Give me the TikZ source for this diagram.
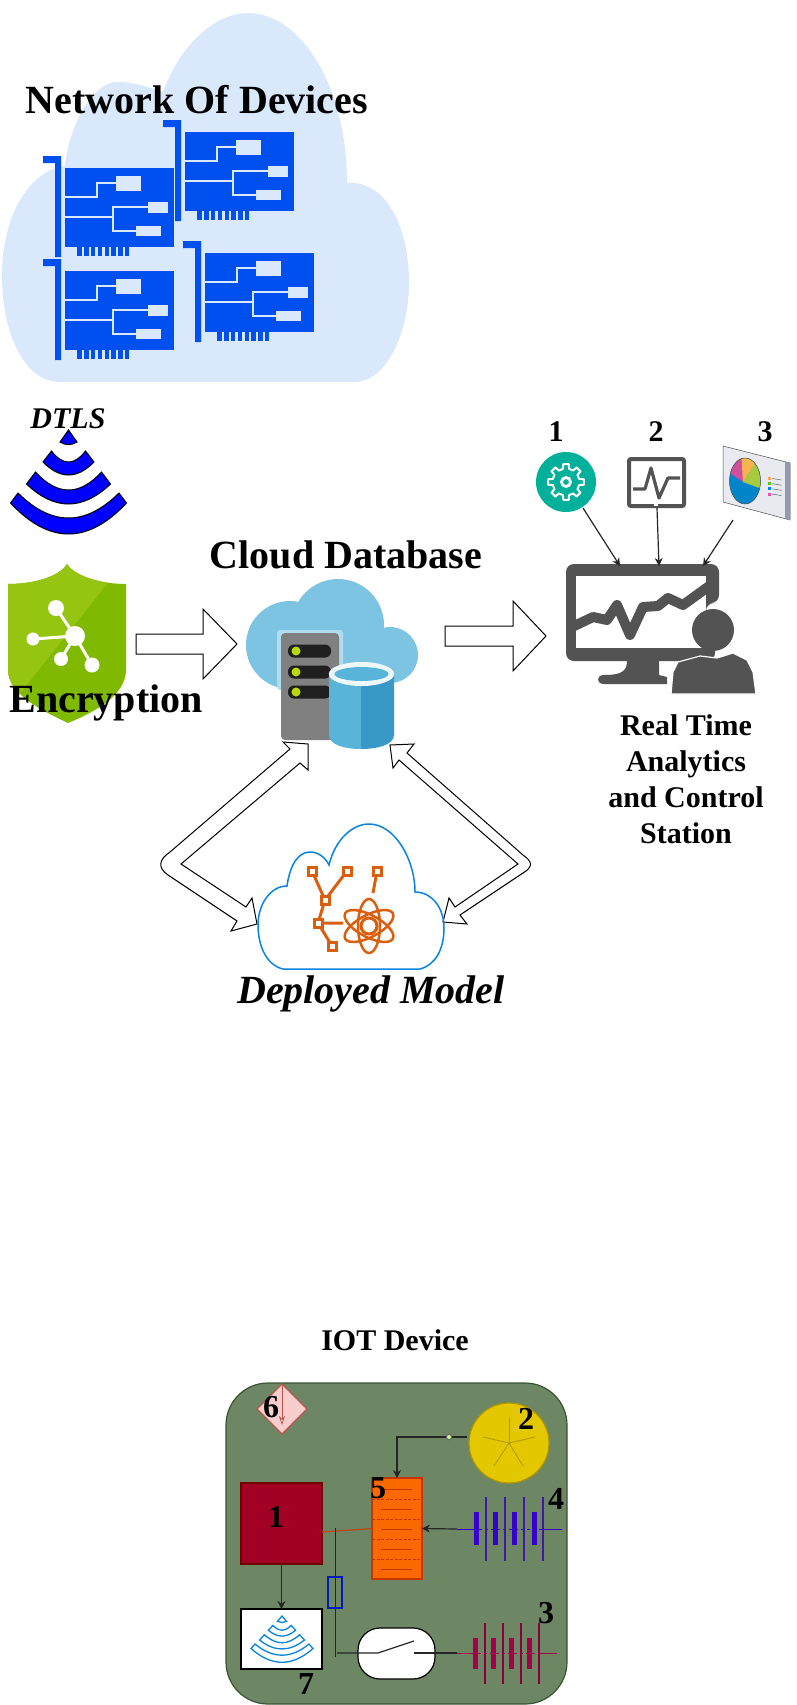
\documentclass[tikz,border=0pt]{standalone}
\usepackage{fontspec}
\setmainfont{Liberation Serif}
\usetikzlibrary{arrows.meta,shapes.geometric}
\definecolor{cardblue}{HTML}{0050EF}
\definecolor{cloudblue}{HTML}{DAE8FC}
\definecolor{skyblue}{HTML}{7DC3E2}
\definecolor{darkgrey}{HTML}{535353}
\definecolor{iconorange}{HTML}{D95F0E}
\definecolor{shieldgreen}{RGB}{127,186,0}
\definecolor{shieldlight}{RGB}{149,197,17}
\definecolor{iconblue}{RGB}{10,132,224}
\definecolor{drumlight}{RGB}{89,180,217}
\definecolor{drumdark}{RGB}{57,153,198}
\definecolor{ledgreen}{RGB}{186,216,10}
\definecolor{batfour}{HTML}{3700CC}
\definecolor{batthr}{HTML}{A20049}
\definecolor{memedge}{RGB}{199,53,0}
\definecolor{pinkedge}{RGB}{184,84,80}
\definecolor{sunedge}{RGB}{176,149,0}
\definecolor{busblue}{RGB}{0,29,188}

\tikzset{
    pics/netcard/.style={code={
        \fill[cardblue] (0,0) rectangle (109,79);
        \fill[cardblue] (-22,-12) -- (-4,-12) -- (-4,89) -- (-10,89) -- (-10,-5) -- (-22,-5) -- cycle;
        \foreach \k in {0,...,7} {
            \fill[cardblue] ({12.3+6.8*\k},79) rectangle ++(4.4,9);
        }
        \draw[cloudblue, line width=1.5] (0,29) -- (32,29) -- (32,15) -- (51,15);
        \draw[cloudblue, line width=1.5] (0,49) -- (48,49);
        \draw[cloudblue, line width=1.5] (83,39) -- (48,39) -- (48,63) -- (71,63);
        \fill[cloudblue] (51,8) rectangle (76,23);
        \fill[cloudblue] (83,34) rectangle (103,45);
        \fill[cloudblue] (71,58) rectangle (96,68);
    }},
    pics/wifiicon/.style={code={
        \path[pic actions] (0,0) -- (8.5,12) .. controls (3,15.5) and (-3,15.5) .. (-8.5,12) -- cycle;
        \foreach \a/\b/\c/\d/\e/\f in {25.5/32/45/17/21/32, 42/54/74/33/42/60, 58/73/104/50.5/63/88} {
            \path[pic actions] (-\a,\b) .. controls ({-\a/3},{\b+4/3*(\c-\b)}) and ({\a/3},{\b+4/3*(\c-\b)}) .. (\a,\b)
                -- (\d,\e) .. controls ({\d/3},{\e+4/3*(\f-\e)}) and ({-\d/3},{\e+4/3*(\f-\e)}) .. (-\d,\e) -- cycle;
        }
    }}
}

\begin{document}
\begin{tikzpicture}[
    x=1pt, y=-1pt,
    bigtitle/.style={font=\bfseries\fontsize{40}{40}\selectfont, anchor=base, inner sep=0pt},
    smalltitle/.style={font=\bfseries\fontsize{30}{30}\selectfont, anchor=base, inner sep=0pt},
    numlabel/.style={font=\bfseries\fontsize{32}{32}\selectfont, anchor=base, inner sep=0pt},
    blockarrow/.style={draw=black, fill=white, line width=1},
    thinarrow/.style={draw=black!85, line width=1.2, -{Stealth[length=8pt,width=8pt]}},
    wire/.style={draw=black!85, line width=1.2},
    flat/.style={inner sep=0pt, outer sep=0pt, line width=1.2},
    plate/.style={line width=1.2},
    cell/.style={line width=1}
]
    \useasboundingbox (0,0) rectangle (797,1705);

    % network of devices
    \fill[cloudblue] (60,382) .. controls (25,382) and (2,335) .. (2,275)
        .. controls (2,215) and (30,170) .. (65,166)
        .. controls (70,120) and (95,82) .. (117,82)
        .. controls (135,82) and (150,88) .. (163,92)
        .. controls (180,45) and (215,13) .. (248,13)
        .. controls (300,13) and (347,85) .. (347,183)
        .. controls (385,180) and (409,225) .. (409,283)
        .. controls (409,335) and (385,382) .. (355,382) -- cycle;
    \pic (carda) at (65,168) {netcard};
    \pic (cardb) at (185,132) {netcard};
    \pic (cardc) at (65,271) {netcard};
    \pic (cardd) at (205,253) {netcard};
    \node[bigtitle] (network) at (197,113) {Network Of Devices};

    % dtls and encryption
    \node[font=\bfseries\itshape\fontsize{30}{30}\selectfont, anchor=base, inner sep=0pt] (dtls) at (68,428) {DTLS};
    \pic[draw=black, fill=blue, line width=1] at (68.5,430) {wifiicon};

    \fill[shieldgreen] (67,564)
        .. controls (60,576) and (35,584) .. (8,584) -- (8,670)
        .. controls (8,695) and (45,712) .. (68,723)
        .. controls (95,712) and (126,695) .. (126,670) -- (126,584)
        .. controls (100,584) and (75,576) .. (67,564) -- cycle;
    \begin{scope}
        \clip (67,564) .. controls (60,576) and (35,584) .. (8,584) -- (8,670)
            .. controls (8,695) and (45,712) .. (68,723)
            .. controls (95,712) and (126,695) .. (126,670) -- (126,584)
            .. controls (100,584) and (75,576) .. (67,564) -- cycle;
        \fill[shieldlight] (0,550) -- (121,550) -- (107,584) -- (25,687) -- (0,720) -- cycle;
    \end{scope}
    \draw[white, line width=3] (56,608) -- (75,636) (33,639) -- (75,636) (61,659) -- (75,636) (92,665) -- (75,636);
    \fill[white] (75,636) circle (10) (56,608) circle (8) (33,639) circle (6.5) (61,659) circle (7) (92,665) circle (7.5);
    \node[bigtitle] (encryption) at (106,712) {Encryption};

    \draw[blockarrow] (136,634) -- (203,634) -- (203,609) -- (237,644) -- (203,679) -- (203,654) -- (136,654) -- cycle;

    % cloud database
    \fill[skyblue] (290,645) circle (44);
    \fill[skyblue] (338,625) circle (46);
    \fill[skyblue] (390,655) circle (28);
    \fill[skyblue] (290,630) rectangle (390,683);
    \fill[white!40!skyblue, rounded corners=3] (277,630) rectangle (343,690);
    \fill[black!50, rounded corners=4] (281,633) rectangle (339,740);
    \foreach \y in {651,672,692} {
        \fill[black!88, rounded corners=6] (288,\y-6.5) rectangle (331,\y+6.5);
        \fill[ledgreen] (296,\y) circle (4.5);
    }
    \fill[drumlight] (329,674) -- (361,674) -- (361,749) .. controls (345,749) and (329,745) .. (329,735) -- cycle;
    \fill[drumdark] (361,674) -- (394,674) -- (394,735) .. controls (394,745) and (377,749) .. (361,749) -- cycle;
    \fill[white!90!drumlight] (361.5,674) ellipse (32.7 and 12);
    \fill[drumlight] (361.5,674) ellipse (27 and 7);
    \node[bigtitle] (database) at (346,568) {Cloud Database};

    \draw[blockarrow] (445,626) -- (513,626) -- (513,601) -- (546,636) -- (513,671) -- (513,646) -- (445,646) -- cycle;

    % analytics station
    \fill[darkgrey, rounded corners=8] (566,564) -- (719,564) -- (719,603) -- (706,603) -- (706,625) -- (715,625) -- (715,661) -- (566,661) -- cycle;
    \fill[white] (576,576) rectangle (706,648);
    \begin{scope}
        \clip (576,576) rectangle (706,648);
        \draw[darkgrey, line width=10, line join=round] (570,628) -- (593,617) -- (607,620) -- (617,605) -- (630,635) -- (643,607) -- (658,606) -- (668,598) -- (683,605) -- (712,584);
    \end{scope}
    \fill[darkgrey] (627,661) -- (659,661) -- (659,675) -- (667,677) -- (667,684) -- (604,684)
        .. controls (596,684) and (596,675) .. (604,675) .. controls (620,675) and (627,672) .. (627,661) -- cycle;
    \filldraw[darkgrey, draw=white, line width=1.2] (671,694) -- (673,672) -- (678,662) -- (700,656) -- (717,658) -- (733,653) -- (747,660) -- (753,672) -- (756,694) -- cycle;
    \fill[darkgrey] (713,630) circle (21);
    \coordinate (station1) at (620,566);
    \coordinate (station2) at (659,566);
    \coordinate (station3) at (703,566);

    \fill[fill={rgb,255:red,0;green,176;blue,155}] (566,482) circle (30);
    \begin{scope}[shift={(566,482)}]
        \draw[white, line width=2, line join=round] (-13:13.5)
            \foreach \a in {0,45,...,315} { -- (\a-13:13.5) -- (\a-9:18) -- (\a+9:18) -- (\a+13:13.5) } -- cycle;
        \draw[white, line width=2.8] (0,0) circle (4.5);
    \end{scope}
    \coordinate (gearout) at (583,508);
    \node[smalltitle] (first) at (556,441) {1};

    \draw[darkgrey, line width=4, rounded corners=2, fill=white] (629,459) rectangle (684,506);
    \draw[darkgrey, line width=3.2, line join=round] (633,489) -- (645,489) -- (651,468) -- (659,498) -- (668,478) -- (680,478);
    \fill[white] (654,504) rectangle (658,506);
    \coordinate (scopeout) at (657,508);
    \node[smalltitle] (second) at (656,441) {2};

    \filldraw[draw=black!70, line width=0.5, fill={rgb,255:red,232;green,234;blue,240}] (723,446) -- (790,463) -- (790,520) -- (723,502) -- cycle;
    \fill[fill={rgb,255:red,143;green,155;blue,179}] (785,462) -- (790,463) -- (790,520) -- (785,519) -- cycle;
    \begin{scope}
        \clip (745,481) ellipse (15.5 and 23);
        \fill[fill={rgb,255:red,0;green,133;blue,203}] (720,450) rectangle (770,510);
        \fill[fill={rgb,255:red,206;green,79;blue,155}] (743,482) -- (725,470) -- (730,450) -- (743,450) -- cycle;
        \fill[fill={rgb,255:red,249;green,180;blue,79}] (743,482) -- (741,450) -- (757,450) -- (755,464) -- cycle;
        \fill[fill={rgb,255:red,167;green,203;blue,62}] (743,482) -- (755,464) -- (765,460) -- (765,490) -- cycle;
    \end{scope}
    \draw[black!70, line width=0.5] (745,481) ellipse (15.5 and 23);
    \foreach \y/\c in {0/orange!70, 1/green!60!yellow!80!black, 2/blue!50!cyan, 3/magenta!70} {
        \fill[\c] (767.5,{477+\y*5.2}) rectangle ++(3,3);
        \draw[black!60, line width=0.5] (772.5,{478.5+\y*5.2}) -- ++(9,1.5);
    }
    \coordinate (boardout) at (733,520);
    \node[smalltitle] (third) at (765,441) {3};

    \draw[thinarrow] (gearout) -- (station1);
    \draw[thinarrow] (scopeout) -- (station2);
    \draw[thinarrow] (boardout) -- (station3);

    \node[smalltitle] (realtime) at (686,735) {Real Time};
    \node[smalltitle] (analytics) at (686,771) {Analytics};
    \node[smalltitle] (control) at (686,807) {and Control};
    \node[smalltitle] (stationtxt) at (686,843) {Station};

    % deployed model
    \draw[blockarrow] (308,744) -- (283,742) -- (290,749) -- (170,852)
        .. controls (158,860) and (158,868) .. (168,875) -- (237,921) -- (231,931) -- (257,924) -- (252,898) -- (246,907)
        -- (181,864) -- (300,763) -- (308,770) -- cycle;
    \draw[blockarrow] (390,745) -- (414,744) -- (407,753) -- (523,855)
        .. controls (533,862) and (533,867) .. (523,873) -- (460,915) -- (467,924) -- (443,922) -- (449,898) -- (455,907)
        -- (518,864) -- (399,760) -- (393,768) -- cycle;

    \draw[iconblue, line width=1.5] (283,969)
        .. controls (266,965) and (258,945) .. (258,925) .. controls (258,905) and (270,886) .. (287,886)
        .. controls (290,865) and (298,852) .. (310,852) .. controls (318,852) and (325,857) .. (329,865)
        .. controls (335,840) and (352,824) .. (369,824) .. controls (395,824) and (415,860) .. (415,892)
        .. controls (432,892) and (444,908) .. (444,928) .. controls (444,950) and (435,965) .. (420,969) -- cycle;
    \draw[iconorange, line width=3] (312,871) -- (325,900) -- (347,871) (325,900) -- (318,923) -- (332,946) (318,923) -- (343,923) (377,871) -- (373,893);
    \foreach \x/\y in {312/871, 347/871, 377/871, 325/900, 318/923, 332/946} {
        \filldraw[draw=iconorange, fill=white, line width=3] (\x-4,\y-4) rectangle (\x+4,\y+4);
    }
    \foreach \a in {90,28,-28} {
        \draw[iconorange, line width=2.5, rotate around={\a:(369,926)}] (369,926) ellipse (27 and 11);
    }
    \draw[iconorange, line width=3] (369,926) circle (8);
    \node[font=\bfseries\itshape\fontsize{40}{40}\selectfont, anchor=base, inner sep=0pt] (deployed) at (371,1003) {Deployed Model};

    % iot device
    \node[smalltitle] (iottitle) at (395,1350) {IOT Device};
    \node[flat, draw={rgb,255:red,58;green,84;blue,49}, fill={rgb,255:red,109;green,135;blue,100}, rounded corners=42, minimum width=341, minimum height=321] (board) at (396.5,1543.5) {};

    \node[flat, diamond, draw=pinkedge, fill={rgb,255:red,248;green,206;blue,204}, minimum width=50, minimum height=50] (warn) at (282,1409) {};
    \draw[draw=pinkedge, line width=0.7, -{Stealth[length=9pt,width=6pt,open]}] (warn.north) -- (282,1425);
    \node[numlabel] (six) at (271,1417) {6};

    \node[flat, circle, draw=sunedge, fill={rgb,255:red,227;green,200;blue,0}, minimum size=80] (sensor) at (509,1443) {};
    \foreach \x/\y in {509/1417, 535/1437, 523/1466, 494/1466, 483/1437} {
        \draw[sunedge, line width=0.8] (sensor.center) -- (\x,\y);
    }
    \node[numlabel] (two) at (526,1429) {2};

    \node[flat, draw=memedge, fill={rgb,255:red,250;green,104;blue,0}, minimum width=50, minimum height=101] (mem) at (397,1528.5) {};
    \foreach \y in {1499,1519,1539,1559} {
        \draw[memedge, line width=0.7, dash pattern=on 3pt off 1.5pt] (372,\y) -- (422,\y);
    }
    \foreach \y in {1489,1509,1529,1549,1569} {
        \draw[memedge, line width=1] (381,\y) -- (412,\y);
    }
    \node[numlabel] (five) at (378,1498) {5};

    \node[flat, draw={rgb,255:red,111;green,0;blue,0}, fill={rgb,255:red,162;green,0;blue,37}, minimum width=81, minimum height=81] (mcu) at (281.5,1523.5) {};
    \node[numlabel] (one) at (276,1527) {1};

    \node[flat, draw=black, fill=white, minimum width=81, minimum height=60] (radio) at (281.5,1639) {};
    \pic[draw=iconblue, fill=white, line width=1.3, xscale=0.534, yscale=0.445] at (282,1616) {wifiicon};
    \node[numlabel] (seven) at (306,1694) {7};

    \node[flat, circle, draw=black!60, fill=green!50!yellow!40, minimum size=5.5] (dot) at (449,1437) {};
    \coordinate (sensorpin) at (467,1437);
    \draw[wire] (sensorpin) -- (dot);
    \draw[thinarrow] (dot) -| (mem.north);
    \draw[thinarrow] (mcu.south) -- (radio.north);

    \coordinate (mcuport) at (322,1532);
    \draw[draw={rgb,255:red,190;green,70;blue,20}, line width=1.2] (mcuport) -- (mem.west);

    % power wiring
    \coordinate (bustop) at (335,1528);
    \coordinate (busend) at (335,1657);
    \draw[busblue, line width=1] (bustop) -- (busend);
    \node[flat, draw=busblue, minimum width=14, minimum height=31] (fuse) at (335,1592.5) {};

    \node[flat, draw=black, fill=white, rounded corners=22, minimum width=77, minimum height=51] (switch) at (396.5,1653.5) {};
    \coordinate (swin) at (337,1653);
    \coordinate (swa) at (378,1653);
    \coordinate (swb) at (414,1641);
    \coordinate (swc) at (414,1653);
    \coordinate (batin) at (457,1653);
    \draw[wire] (swin) -- (swa) -- (swb);
    \draw[wire] (swc) -- (batin);

    % battery four
    \coordinate (batfourin) at (457,1529);
    \draw[batfour, cell] (batfourin) -- (474,1529);
    \draw[batfour, cell, dashed] (479,1529) -- (543,1529);
    \draw[batfour, cell] (543,1529) -- (562,1529);
    \foreach \x in {474,493,512,532} {
        \fill[batfour] (\x,1512) rectangle ++(5,33);
    }
    \foreach \x in {486,505,524,543} {
        \draw[batfour!75!black!90, plate] (\x,1497) -- (\x,1561);
    }
    \draw[thinarrow] (batfourin) -- (mem.east);
    \node[numlabel] (four) at (556,1509) {4};

    % battery three
    \draw[batthr, cell] (batin) -- (473,1653);
    \draw[batthr, cell, dashed] (478,1653) -- (539,1653);
    \draw[batthr, cell] (539,1653) -- (557,1653);
    \foreach \x in {473,491,509,527} {
        \fill[batthr] (\x,1638) rectangle ++(5,31);
    }
    \foreach \x in {485,503,521,539} {
        \draw[batthr!85!black, plate] (\x,1623) -- (\x,1684);
    }
    \node[numlabel] (three) at (546,1623) {3};
\end{tikzpicture}
\end{document}
